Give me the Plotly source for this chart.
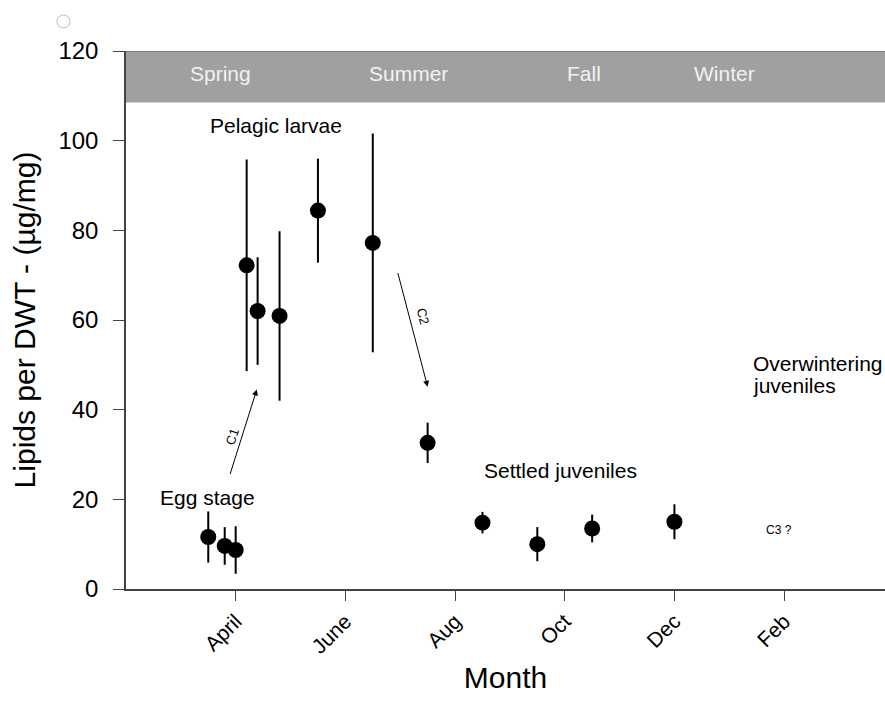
import plotly.graph_objects as go

# Sampling month (4 = April, 12 = December, 14 = February of the next year)
month = [3.5, 3.8, 4.0, 4.2, 4.4, 4.8, 5.5, 6.5, 7.5, 8.5, 9.5, 10.5, 12.0]
# Mean lipid content per dry weight (µg/mg) and its error
lipids = [11.6, 9.6, 8.7, 72.2, 62.0, 60.9, 84.4, 77.2, 32.6, 14.8, 10.0, 13.5, 15.0]
lipids_err = [5.7, 4.2, 5.3, 23.6, 12.0, 18.9, 11.6, 24.4, 4.5, 2.4, 3.8, 3.1, 3.9]

tick_months = [4, 6, 8, 10, 12, 14]
tick_labels = ["April", "June", "Aug", "Oct", "Dec", "Feb"]

seasons = ["Spring", "Summer", "Fall", "Winter"]
season_x = [3.73, 7.15, 10.35, 12.92]

FONT = "Liberation Sans, Arial, sans-serif"
X_RANGE = [2, 15.84]

fig = go.Figure()

fig.add_trace(go.Scatter(
    x=month, y=lipids,
    mode="markers",
    marker=dict(color="black", size=16),
    error_y=dict(type="data", array=lipids_err, visible=True,
                 color="black", thickness=2, width=0),
    showlegend=False,
))

shapes = [
    # season band along the top
    dict(type="rect", xref="paper", yref="y", x0=0, x1=1, y0=108.5, y1=120,
         fillcolor="#a0a0a0", line=dict(width=0), layer="below"),
    dict(type="line", xref="paper", yref="y", x0=0, x1=1, y0=120, y1=120,
         line=dict(color="#7a7a7a", width=2)),
    # small marker circle above the axis
    dict(type="circle", xref="paper", yref="paper",
         x0=(57 - 126) / 759, x1=(70 - 126) / 759,
         y0=1 + (51 - 28) / 538, y1=1 + (51 - 15) / 538,
         line=dict(color="#bbbbbb", width=1)),
]

annotations = []
for name, sx in zip(seasons, season_x):
    annotations.append(dict(x=sx, y=115.0, text=name, showarrow=False,
                            font=dict(family=FONT, size=21, color="#f2f2f2")))

labels = [
    ("Pelagic larvae", 4.73, 103.3),
    ("Egg stage", 3.48, 20.3),
    ("Settled juveniles", 9.93, 26.5),
]
for txt, lx, ly in labels:
    annotations.append(dict(x=lx, y=ly, text=txt, showarrow=False,
                            font=dict(family=FONT, size=21, color="black")))

for txt, ly in (("Overwintering", 50.4), ("juveniles", 45.35)):
    annotations.append(dict(x=13.40, y=ly, text=txt, showarrow=False,
                            xanchor="left", align="left",
                            font=dict(family=FONT, size=21, color="black")))
annotations.append(dict(x=13.9, y=13.2, text="C3 ?", showarrow=False,
                        font=dict(family=FONT, size=12, color="black")))

# developmental transition arrows
annotations.append(dict(x=4.385, y=44.5, ax=3.89, ay=25.3, axref="x", ayref="y",
                        text="", showarrow=True, arrowhead=2, arrowsize=1.2,
                        arrowwidth=1, arrowcolor="black"))
annotations.append(dict(x=3.94, y=34.0, text="C1", showarrow=False, textangle=-72,
                        font=dict(family=FONT, size=13, color="black")))
annotations.append(dict(x=7.50, y=45.1, ax=6.95, ay=70.8, axref="x", ayref="y",
                        text="", showarrow=True, arrowhead=2, arrowsize=1.2,
                        arrowwidth=1, arrowcolor="black"))
annotations.append(dict(x=7.41, y=60.7, text="C2", showarrow=False, textangle=75,
                        font=dict(family=FONT, size=13, color="black")))

fig.update_layout(
    width=885, height=717,
    margin=dict(l=126, r=0, t=51, b=128),
    paper_bgcolor="white", plot_bgcolor="white",
    font=dict(family=FONT, color="black"),
    shapes=shapes,
    annotations=annotations,
    xaxis=dict(
        range=X_RANGE, tickmode="array", tickvals=tick_months, ticktext=tick_labels,
        tickangle=-45, ticks="outside", ticklen=10, tickcolor="#444",
        tickfont=dict(family=FONT, size=21, color="black"),
        showgrid=False, zeroline=False, showline=True, linecolor="#444", linewidth=1.5,
        title=dict(text="Month", font=dict(family=FONT, size=30, color="black"), standoff=10),
    ),
    yaxis=dict(
        range=[0, 120], tickmode="array", tickvals=[0, 20, 40, 60, 80, 100, 120],
        ticks="outside", ticklen=11, tickcolor="#444", ticklabelstandoff=10,
        tickfont=dict(family=FONT, size=24, color="black"),
        showgrid=False, zeroline=False, showline=True, linecolor="#444", linewidth=1.5,
        title=dict(text="Lipids per DWT - (µg/mg)",
                   font=dict(family=FONT, size=30, color="black"), standoff=14),
    ),
)

fig.write_html("out.html")
